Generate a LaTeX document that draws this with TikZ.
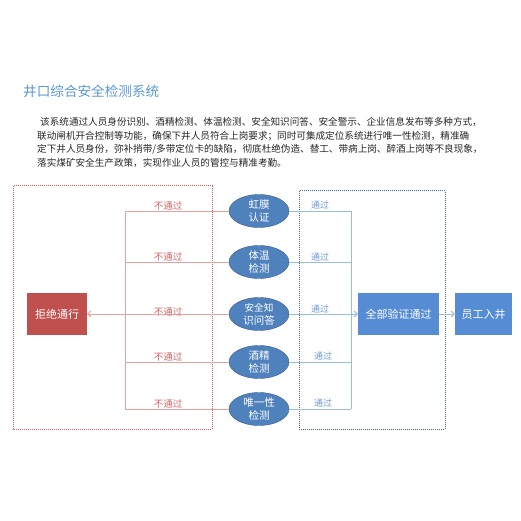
\documentclass[tikz,border=0pt]{standalone}
\usepackage{fontspec}
\setmainfont{Noto Sans CJK SC}
\usepackage{xcolor}
\usetikzlibrary{arrows.meta, calc, positioning, shapes.geometric}
\definecolor{titleblue}{RGB}{91,150,215}
\definecolor{ellblue}{RGB}{79,129,189}
\definecolor{ellline}{RGB}{56,93,138}
\definecolor{boxblue}{RGB}{85,140,212}
\definecolor{boxred}{RGB}{192,80,77}
\definecolor{frame red}{RGB}{222,90,90}
\definecolor{frame blue}{RGB}{70,100,150}
\definecolor{failline}{RGB}{232,160,160}
\definecolor{failtext}{RGB}{212,100,100}
\definecolor{passline}{RGB}{155,187,224}
\definecolor{passtext}{RGB}{111,155,209}

\begin{document}
\begin{tikzpicture}[
    x=1pt, y=-1pt,
    >={Straight Barb[length=3pt,width=6pt]},
    check/.style={ellipse, draw=ellline, fill=ellblue, text=white, minimum width=60pt,
      minimum height=33pt, inner sep=0pt, align=center, font=\fontsize{10.5}{13}\selectfont},
    result/.style={rectangle, text=white, minimum height=42pt, inner sep=0pt,
      font=\fontsize{11}{13}\selectfont},
    frame/.style={line width=1pt, dash pattern=on 1pt off 1pt},
    failbranch/.style={failline, line width=1pt},
    passbranch/.style={passline, line width=1pt},
    faillabel/.style={text=failtext, font=\fontsize{9.5}{11}\selectfont, inner sep=0pt},
    passlabel/.style={text=passtext, font=\fontsize{9}{11}\selectfont, inner sep=0pt},
    para/.style={anchor=west, inner sep=0pt, text=black!85, font=\fontsize{9.6}{11}\selectfont},
]
\useasboundingbox (0,0) rectangle (521,521);
% heading and description
\node[anchor=west, inner sep=0pt, text=titleblue, font=\fontsize{13.6}{15}\selectfont] (title) at (23,91) {井口综合安全检测系统};
\node[para] (p1) at (40,122) {该系统通过人员身份识别、酒精检测、体温检测、安全知识问答、安全警示、企业信息发布等多种方式，};
\node[para] (p2) at (37,136) {联动闸机开合控制等功能，确保下井人员符合上岗要求；同时可集成定位系统进行唯一性检测，精准确};
\node[para] (p3) at (37,149) {定下井人员身份，弥补捎带/多带定位卡的缺陷，彻底杜绝伪造、替工、带病上岗、醉酒上岗等不良现象，};
\node[para] (p4) at (37,163) {落实煤矿安全生产政策，实现作业人员的管控与精准考勤。};
% dotted frames: reject side and pass side
\draw[frame, frame red] (13,186) rectangle (212,429);
\draw[frame, frame blue] (299,191) rectangle (445,429);
% result boxes
\node[result, fill=boxred, minimum width=60pt] (reject) at (57,314) {拒绝通行};
\node[result, fill=boxblue, minimum width=81pt] (pass) at (398.5,314) {全部验证通过};
\node[result, fill=boxblue, minimum width=57pt] (enter) at (483.5,314) {员工入井};
% the five checks, with their fail and pass branches
\foreach \i/\y/\txt/\dy in {1/211/虹膜\\认证/5, 2/262/体温\\检测/5, 3/314/{\fontsize{9.6}{13}\selectfont 安全知\\识问答}/2,
                            4/362/酒精\\检测/5, 5/409/唯一性\\检测/5} {
  \node[check] (e\i) at (259,\y) {\txt};
  \coordinate (rj\i) at (125,\y);
  \coordinate (pj\i) at (351,\y);
  \node[faillabel] (nf\i) at (168,\y-\dy) {不通过};
}
\foreach \i in {1,2,4,5} {
  \draw[failbranch] (e\i.west) -- (rj\i);
  \draw[passbranch] (e\i.east) -- (pj\i);
}
\draw[failbranch] (rj1) -- (rj5);
\draw[passbranch] (pj1) -- (pj5);
\draw[failbranch, ->] (e3.west) -- (reject.east);
\draw[passbranch, ->] (e3.east) -- (pass.west);
\draw[passbranch, ->] (pass.east) -- (enter.west);
% pass labels
\node[passlabel] (np1) at (320,205) {通过};
\node[passlabel] (np2) at (320,257) {通过};
\node[passlabel] (np3) at (320,309) {通过};
\node[passlabel] (np4) at (323,356) {通过};
\node[passlabel] (np5) at (323,403) {通过};
\end{tikzpicture}
\end{document}
